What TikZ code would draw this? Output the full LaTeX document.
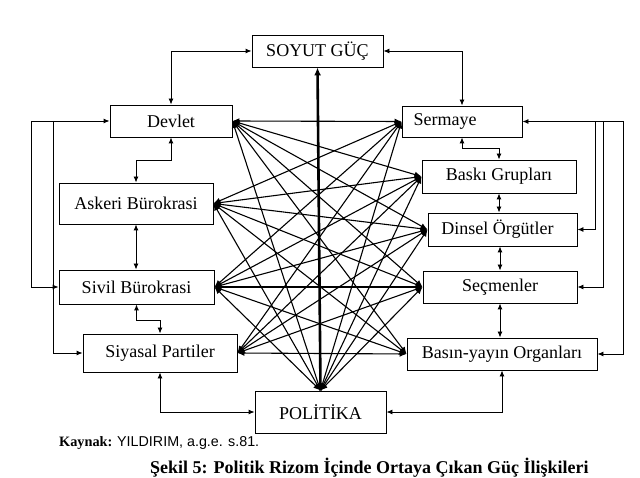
\documentclass[tikz,border=0pt]{standalone}
\usepackage{fontspec}
\setmainfont{Liberation Serif}
\newfontfamily\sansf{Liberation Sans}
\usetikzlibrary{arrows.meta}
\begin{document}
\begin{tikzpicture}[x=1pt,y=-1pt,
  box/.style={draw,line width=0.9pt,inner sep=0pt,font=\fontsize{18}{20}\selectfont},
  link/.style={line width=0.9pt,{Latex[length=6pt,width=5pt]}-{Latex[length=6pt,width=5pt]}},
  onew/.style={line width=0.9pt,-{Latex[length=6pt,width=5pt]}},
  cross/.style={line width=1.1pt,{Latex[length=7pt,width=6pt]}-{Latex[length=7pt,width=6pt]}},
  thick arrow/.style={line width=2.6pt,-{Latex[length=8pt,width=7pt]}}]
\useasboundingbox (0,0) rectangle (640,478);
% boxes
\node[box,minimum width=131pt,minimum height=32pt] (soyut) at (317.5,51) {SOYUT GÜÇ};
\node[box,minimum width=122pt,minimum height=32pt] (devlet) at (171,121) {Devlet};
\node[box,minimum width=154pt,minimum height=41pt] (askeri) at (136,203.5) {Askeri Bürokrasi};
\node[box,minimum width=155pt,minimum height=34pt] (sivil) at (136.5,287) {Sivil Bürokrasi};
\node[box,minimum width=154pt,minimum height=38pt] (siyasal) at (160,353) {Siyasal Partiler};
\node[box,minimum width=131pt,minimum height=42pt] (politika) at (320.5,412) {POLİTİKA};
\node[box,minimum width=120pt,minimum height=31pt] (sermaye) at (462,121.5) {Sermaye\hspace*{34pt}};
\node[box,minimum width=154pt,minimum height=33pt] (baski) at (499,176.5) {Baskı Grupları};
\node[box,minimum width=149pt,minimum height=33pt] (dinsel) at (502.5,229.5) {Dinsel Örgütler\hspace*{10pt}};
\node[box,minimum width=154pt,minimum height=32pt] (secmen) at (500,287) {Seçmenler};
\node[box,minimum width=190pt,minimum height=32pt] (basin) at (502,354) {Basın-yayın Organları};
% helper coordinates for outer lines
\coordinate (L1) at (31,0);
\coordinate (L2) at (53,0);
\coordinate (R1) at (595,0);
\coordinate (R2) at (603,0);
\coordinate (R3) at (623,0);
% orthogonal connectors
\draw[link] (devlet.north) |- (soyut.west);
\draw[link] (sermaye.north) |- (soyut.east);
\draw[link] (devlet.south) -- ++(0,23) -| (askeri.north);
\draw[link] (askeri.south) -- (askeri.south |- sivil.north);
\draw[link] (sivil.south) -- ++(0,16) -| (siyasal.north);
\draw[link] (siyasal.south) |- (politika.west);
\draw[link] (politika.east) -| (basin.south);
\draw[link] (sermaye.south) -- ++(0,11) -| (baski.north);
\draw[link] (baski.south) -- (baski.south |- dinsel.north);
\draw[link] (secmen.north |- dinsel.south) -- (secmen.north);
\draw[link] (secmen.south) -- (secmen.south |- basin.north);
% left outer lines
\draw[link] (devlet.west) -- (devlet.west -| L1) -- (sivil.west -| L1) -- (sivil.west);
\draw[onew] (devlet.west -| L2) -- (siyasal.west -| L2) -- (siyasal.west);
% right outer lines
\draw[link] (sermaye.east) -- (sermaye.east -| R3) -- (basin.east -| R3) -- (basin.east);
\draw[onew] (sermaye.east -| R1) -- (dinsel.east -| R1) -- (dinsel.east);
\draw[onew] (sermaye.east -| R2) -- (secmen.east -| R2) -- (secmen.east);
% rhizome cross links
\foreach \a in {devlet,askeri,sivil,siyasal}
  \foreach \b in {sermaye,baski,dinsel,secmen,basin}
    \draw[cross] (\a.east) -- (\b.west);
\foreach \a in {devlet.east,askeri.east,sivil.east,sermaye.west,baski.west,dinsel.west,secmen.west}
  \draw[cross] (\a) -- (politika.north);
\draw[thick arrow] (politika.north) -- (soyut.south);
% captions
\node[anchor=base west,inner sep=0pt,font=\fontsize{14.3}{16}\selectfont] (kaynak) at (59,446) {\textbf{Kaynak:} {\sansf YILDIRIM, a.g.e. s.81.}};
\node[anchor=base west,inner sep=0pt,font=\fontsize{18}{21}\selectfont\bfseries] (sekil) at (150,473) {Şekil 5: Politik Rizom İçinde Ortaya Çıkan Güç İlişkileri};
\end{tikzpicture}
\end{document}
